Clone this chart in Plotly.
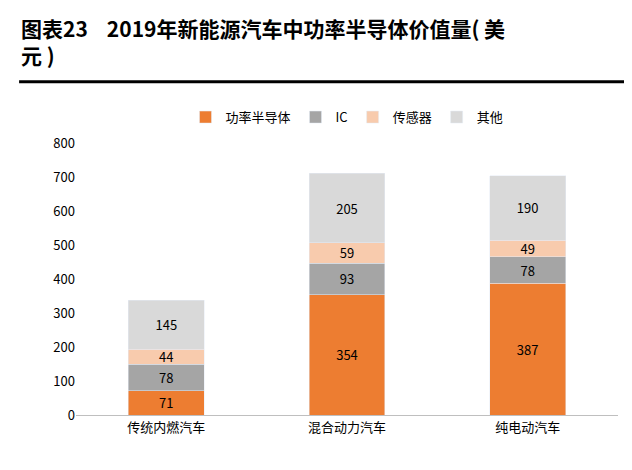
import plotly.graph_objects as go

categories = ["传统内燃汽车", "混合动力汽车", "纯电动汽车"]
series_names = ["功率半导体", "IC", "传感器", "其他"]
power = [71, 354, 387]
ic = [78, 93, 78]
sensor = [44, 59, 49]
other = [145, 205, 190]
colors = ["#ED7D31", "#A5A5A5", "#F8CBAD", "#D9D9D9"]
tick_vals = [0, 100, 200, 300, 400, 500, 600, 700, 800]

fig = go.Figure()
for name, vals, c in zip(series_names, [power, ic, sensor, other], colors):
    fig.add_trace(go.Bar(x=categories, y=vals, name=name, marker_color=c,
                         text=vals, textposition="inside", insidetextanchor="middle",
                         textangle=0, constraintext="none",
                         textfont=dict(color="black", size=13), width=0.42))

fig.update_layout(
    barmode="stack", width=632, height=470, plot_bgcolor="white", paper_bgcolor="white",
    margin=dict(l=68, r=22, t=135, b=63, autoexpand=False),
    font=dict(family="Noto Sans CJK SC, Arial", size=13, color="black"),
    legend=dict(orientation="h", x=0.5, xanchor="center", y=1.04, yanchor="bottom",
                font=dict(size=13), traceorder="normal"),
    showlegend=True,
    annotations=[dict(text="<b>图表23    2019年新能源汽车中功率半导体价值量( 美<br>元 )</b>",
                      xref="paper", yref="paper", x=-0.105, y=1.485, xanchor="left",
                      yanchor="top", showarrow=False, align="left",
                      font=dict(size=21, color="black"))],
    shapes=[dict(type="line", xref="paper", yref="paper", x0=-0.105, x1=1.03,
                 y0=1.225, y1=1.225, line=dict(color="black", width=3))],
)
fig.update_yaxes(range=[0, 800], tickvals=tick_vals, showgrid=False, showline=False,
                 ticks="", zeroline=False, tickfont=dict(size=13))
fig.update_xaxes(showline=True, linecolor="#BFBFBF", tickfont=dict(size=13))
fig.write_html("out.html")
